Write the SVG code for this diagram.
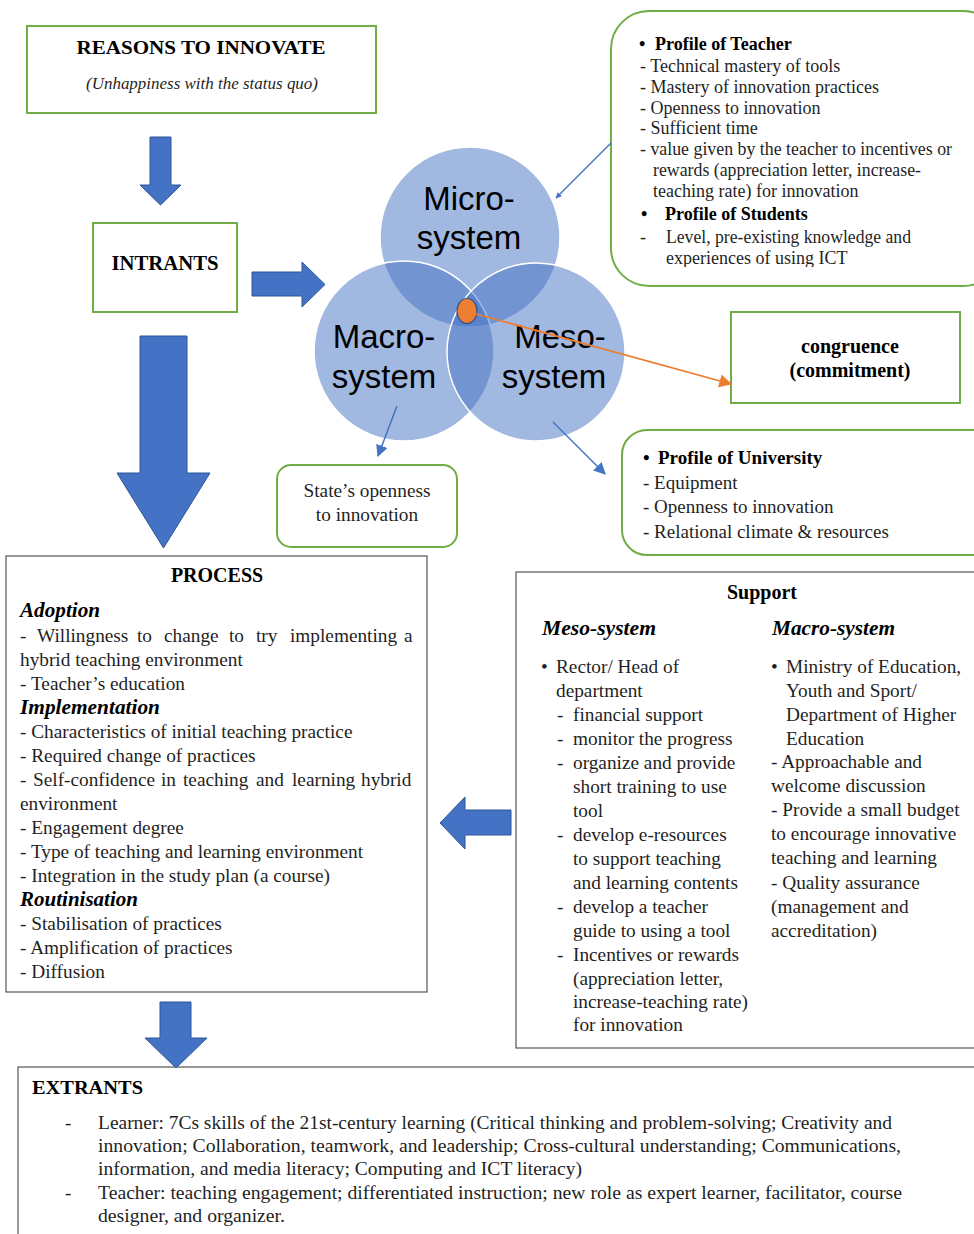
<svg xmlns="http://www.w3.org/2000/svg" width="974" height="1234" viewBox="0 0 974 1234">
<defs>
<style>
.t{font-family:"Liberation Serif","Times New Roman",serif;fill:#1f1f1f;}
.b{font-weight:bold;fill:#000;}
.bi{font-weight:bold;font-style:italic;fill:#000;}
.s18{font-size:18px;}
.s19{font-size:19.3px;}
.s20{font-size:20px;}
.x{font-size:19px;}
.c{font-family:"Liberation Sans",Arial,sans-serif;font-size:33px;fill:#000;text-anchor:middle;}
.gbox{fill:#fff;stroke:#70AD47;stroke-width:2;}
.kbox{fill:#fff;stroke:#555;stroke-width:1.2;}
.barrow{fill:#4472C4;stroke:#2F5597;stroke-width:1;}
.circ{fill:#4472C4;fill-opacity:0.5;stroke:#fff;stroke-width:1.5;}
.conn{stroke:#4472C4;stroke-width:1.5;fill:none;}
</style>
<marker id="ab" viewBox="0 0 10 10" refX="9" refY="5" markerWidth="6" markerHeight="6" orient="auto" markerUnits="userSpaceOnUse">
<path d="M0,0 L10,5 L0,10 z" fill="#4472C4"/>
</marker>
<marker id="abig" viewBox="0 0 10 10" refX="9" refY="5" markerWidth="12" markerHeight="12" orient="auto" markerUnits="userSpaceOnUse">
<path d="M0,0 L10,5 L0,10 z" fill="#4472C4"/>
</marker>
<marker id="ao" viewBox="0 0 10 10" refX="9" refY="5" markerWidth="13" markerHeight="13" orient="auto" markerUnits="userSpaceOnUse">
<path d="M0,0 L10,5 L0,10 z" fill="#ED7D31"/>
</marker>
<clipPath id="tclip"><rect x="611" y="11" width="370" height="256"/></clipPath>
</defs>
<rect width="974" height="1234" fill="#fff"/>

<g id="reasons">
<rect class="gbox" x="27" y="26" width="349" height="87"/>
<text class="t b" font-size="19" x="201" y="54" text-anchor="middle" textLength="249" lengthAdjust="spacingAndGlyphs">REASONS TO INNOVATE</text>
<text class="t" font-size="17.5" x="202" y="89" text-anchor="middle" font-style="italic" textLength="232" lengthAdjust="spacingAndGlyphs">(Unhappiness with the status quo)</text>
</g>

<g id="intrants">
<rect class="gbox" x="93" y="223" width="144" height="89"/>
<text class="t b" font-size="20" x="165" y="270" text-anchor="middle" textLength="107" lengthAdjust="spacingAndGlyphs">INTRANTS</text>
</g>

<g id="circles">
<circle class="circ" cx="470" cy="237" r="90"/>
<circle class="circ" cx="404" cy="351" r="90"/>
<circle class="circ" cx="536" cy="352" r="89"/>
<text class="c" x="469" y="210">Micro-</text>
<text class="c" x="469" y="249">system</text>
<text class="c" x="384" y="348">Macro-</text>
<text class="c" x="384" y="388">system</text>
<text class="c" x="560" y="348">Meso-</text>
<text class="c" x="554" y="388">system</text>
<ellipse cx="467" cy="311" rx="10" ry="12.5" fill="#ED7D31" stroke="#2F528F" stroke-width="1.2"/>
</g>

<g id="teacher">
<rect class="gbox" x="611" y="11" width="390" height="275" rx="38"/>
<g clip-path="url(#tclip)">
<text class="t s18"><tspan x="639" y="50" class="b">•</tspan><tspan x="655" y="50" class="b">Profile of Teacher</tspan></text>
<text class="t s18" x="640" y="72">- Technical mastery of tools</text>
<text class="t s18" x="640" y="93">- Mastery of innovation practices</text>
<text class="t s18" x="640" y="114">- Openness to innovation</text>
<text class="t s18" x="640" y="134">- Sufficient time</text>
<text class="t s18" x="640" y="155" textLength="312" lengthAdjust="spacingAndGlyphs">- value given by the teacher to incentives or</text>
<text class="t s18" x="653" y="176" textLength="268" lengthAdjust="spacingAndGlyphs">rewards (appreciation letter, increase-</text>
<text class="t s18" x="653" y="197">teaching rate) for innovation</text>
<text class="t s18"><tspan x="641" y="220" class="b">•</tspan><tspan x="665" y="220" class="b">Profile of Students</tspan></text>
<text class="t s18" x="640" y="243">-</text>
<text class="t s18" x="666" y="243" textLength="245" lengthAdjust="spacingAndGlyphs">Level, pre-existing knowledge and</text>
<text class="t s18" x="666" y="264">experiences of using ICT</text>
</g>
</g>

<g id="congruence">
<rect class="gbox" x="731" y="312" width="229" height="91"/>
<text class="t b" font-size="20" x="850" y="353" text-anchor="middle">congruence</text>
<text class="t b" font-size="20" x="850" y="377" text-anchor="middle">(commitment)</text>
</g>

<g id="university">
<rect class="gbox" x="622" y="430" width="380" height="125" rx="25"/>
<text class="t" font-size="19"><tspan x="643" y="464" class="b">•</tspan><tspan x="658" y="464" class="b">Profile of University</tspan></text>
<text class="t" font-size="19" x="643" y="489">- Equipment</text>
<text class="t" font-size="19" x="643" y="513">- Openness to innovation</text>
<text class="t" font-size="19" x="643" y="538">- Relational climate &amp; resources</text>
</g>

<g id="state">
<rect class="gbox" x="277" y="465" width="180" height="82" rx="14"/>
<text class="t s19" x="367" y="497" text-anchor="middle">State’s openness</text>
<text class="t s19" x="367" y="521" text-anchor="middle">to innovation</text>
</g>

<g id="process">
<rect class="kbox" x="6" y="556" width="421" height="436"/>
<text class="t b s20" x="217" y="582" text-anchor="middle">PROCESS</text>
<text class="t bi s20" x="20" y="617" textLength="80" lengthAdjust="spacingAndGlyphs">Adoption</text>
<text class="t s19" y="642"><tspan x="20">-</tspan><tspan x="37">Willingness</tspan><tspan x="137">to</tspan><tspan x="164">change</tspan><tspan x="229">to</tspan><tspan x="256">try</tspan><tspan x="290">implementing</tspan><tspan x="404">a</tspan></text>
<text class="t s19" x="20" y="666">hybrid teaching environment</text>
<text class="t s19" x="20" y="690">- Teacher’s education</text>
<text class="t bi s20" x="20" y="714" textLength="140" lengthAdjust="spacingAndGlyphs">Implementation</text>
<text class="t s19" x="20" y="738">- Characteristics of initial teaching practice</text>
<text class="t s19" x="20" y="762">- Required change of practices</text>
<text class="t s19" y="786"><tspan x="20">-</tspan><tspan x="33">Self-confidence</tspan><tspan x="161">in</tspan><tspan x="183">teaching</tspan><tspan x="256">and</tspan><tspan x="292">learning</tspan><tspan x="361">hybrid</tspan></text>
<text class="t s19" x="20" y="810">environment</text>
<text class="t s19" x="20" y="834">- Engagement degree</text>
<text class="t s19" x="20" y="858">- Type of teaching and learning environment</text>
<text class="t s19" x="20" y="882">- Integration in the study plan (a course)</text>
<text class="t bi s20" x="20" y="906" textLength="118" lengthAdjust="spacingAndGlyphs">Routinisation</text>
<text class="t s19" x="20" y="930">- Stabilisation of practices</text>
<text class="t s19" x="20" y="954">- Amplification of practices</text>
<text class="t s19" x="20" y="978">- Diffusion</text>
</g>

<g id="support">
<rect class="kbox" x="516" y="572" width="480" height="476"/>
<text class="t b s20" x="762" y="599" text-anchor="middle">Support</text>
<text class="t bi s20" x="542" y="635" textLength="114" lengthAdjust="spacingAndGlyphs">Meso-system</text>
<text class="t bi s20" x="772" y="635" textLength="123" lengthAdjust="spacingAndGlyphs">Macro-system</text>
<text class="t s19" x="541" y="673">•</text>
<text class="t s19" x="556" y="673">Rector/ Head of</text>
<text class="t s19" x="556" y="697">department</text>
<text class="t s19" x="557" y="721">-</text><text class="t s19" x="573" y="721">financial support</text>
<text class="t s19" x="557" y="745">-</text><text class="t s19" x="573" y="745">monitor the progress</text>
<text class="t s19" x="557" y="769">-</text><text class="t s19" x="573" y="769">organize and provide</text>
<text class="t s19" x="573" y="793">short training to use</text>
<text class="t s19" x="573" y="817">tool</text>
<text class="t s19" x="557" y="841">-</text><text class="t s19" x="573" y="841">develop e-resources</text>
<text class="t s19" x="573" y="865">to support teaching</text>
<text class="t s19" x="573" y="889">and learning contents</text>
<text class="t s19" x="557" y="913">-</text><text class="t s19" x="573" y="913">develop a teacher</text>
<text class="t s19" x="573" y="937">guide to using a tool</text>
<text class="t s19" x="557" y="961">-</text><text class="t s19" x="573" y="961">Incentives or rewards</text>
<text class="t s19" x="573" y="985">(appreciation letter,</text>
<text class="t s19" x="573" y="1008">increase-teaching rate)</text>
<text class="t s19" x="573" y="1031">for innovation</text>
<text class="t s19" x="771" y="673">•</text>
<text class="t s19" x="786" y="673">Ministry of Education,</text>
<text class="t s19" x="786" y="697">Youth and Sport/</text>
<text class="t s19" x="786" y="721">Department of Higher</text>
<text class="t s19" x="786" y="745">Education</text>
<text class="t s19" x="771" y="768">- Approachable and</text>
<text class="t s19" x="771" y="792">welcome discussion</text>
<text class="t s19" x="771" y="816">- Provide a small budget</text>
<text class="t s19" x="771" y="840">to encourage innovative</text>
<text class="t s19" x="771" y="864">teaching and learning</text>
<text class="t s19" x="771" y="889">- Quality assurance</text>
<text class="t s19" x="771" y="913">(management and</text>
<text class="t s19" x="771" y="937">accreditation)</text>
</g>

<g id="extrants">
<rect class="kbox" x="18" y="1067" width="980" height="180"/>
<text class="t b x" x="32" y="1094" textLength="111" lengthAdjust="spacingAndGlyphs">EXTRANTS</text>
<text class="t x" x="65" y="1129">-</text>
<text class="t x" x="98" y="1129" textLength="794" lengthAdjust="spacingAndGlyphs">Learner: 7Cs skills of the 21st-century learning (Critical thinking and problem-solving; Creativity and</text>
<text class="t x" x="98" y="1152" textLength="803" lengthAdjust="spacingAndGlyphs">innovation; Collaboration, teamwork, and leadership; Cross-cultural understanding; Communications,</text>
<text class="t x" x="98" y="1175" textLength="484" lengthAdjust="spacingAndGlyphs">information, and media literacy; Computing and ICT literacy)</text>
<text class="t x" x="65" y="1199">-</text>
<text class="t x" x="98" y="1199" textLength="804" lengthAdjust="spacingAndGlyphs">Teacher: teaching engagement; differentiated instruction; new role as expert learner, facilitator, course</text>
<text class="t x" x="98" y="1222" textLength="187" lengthAdjust="spacingAndGlyphs">designer, and organizer.</text>
</g>

<g id="connectors">
<path class="barrow" d="M150,137 H171 V185 H181 L160.5,205 L140,185 H150 Z"/>
<path class="barrow" d="M252,272 H302 V262 L325,284.5 L302,307 V296 H252 Z"/>
<path class="barrow" d="M140,336 H187 V473 H210 L163.5,548 L117,473 H140 Z"/>
<path class="barrow" d="M511,810 H465 V797 L440,823 L465,849 V835 H511 Z"/>
<path class="barrow" d="M160,1002 H191 V1038 H207 L176,1068 L145,1038 H160 Z"/>
<line class="conn" x1="611" y1="143" x2="556" y2="198" marker-end="url(#ab)"/>
<line class="conn" x1="397" y1="406" x2="378" y2="456" marker-end="url(#abig)"/>
<line class="conn" x1="553" y1="422" x2="605" y2="474" marker-end="url(#abig)"/>
<line x1="476" y1="314" x2="731" y2="384" stroke="#ED7D31" stroke-width="1.8" marker-end="url(#ao)"/>
</g>
</svg>
